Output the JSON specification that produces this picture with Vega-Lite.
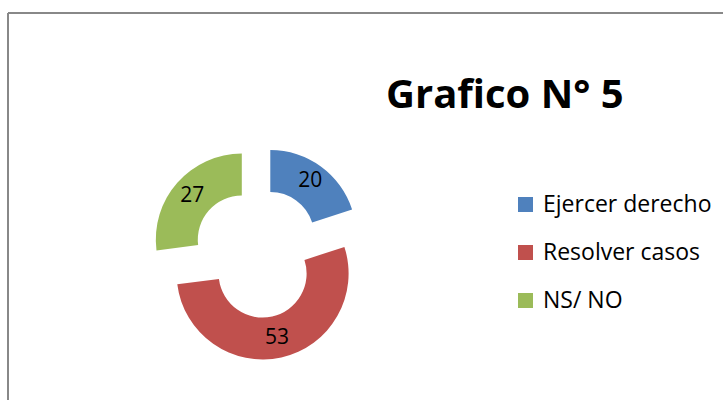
{
  "$schema": "https://vega.github.io/schema/vega-lite/v6.json",
  "autosize": "none",
  "width": 730,
  "height": 480,
  "padding": {"left": 8, "top": 13, "right": -15, "bottom": -93},
  "background": "white",
  "view": {"stroke": "#888888", "strokeWidth": 2, "strokeDash": [730, 1210, 480, 0], "fill": "white"},
  "title": {
    "text": "Grafico N° 5",
    "anchor": "start",
    "frame": "group",
    "orient": "top",
    "offset": 0,
    "dx": 378,
    "dy": 135,
    "baseline": "alphabetic",
    "font": "Open Sans",
    "fontSize": 40,
    "fontWeight": "bold",
    "color": "black"
  },
  "data": {
    "values": [
      {"categoria": "Ejercer derecho", "valor": 20, "orden": 1},
      {"categoria": "Resolver casos", "valor": 53, "orden": 2},
      {"categoria": "NS/ NO", "valor": 27, "orden": 3}
    ]
  },
  "encoding": {
    "theta": {"field": "valor", "type": "quantitative", "stack": true, "scale": {"domain": [0, 100]}},
    "order": {"field": "orden", "type": "quantitative"}
  },
  "layer": [
    {
      "mark": {"type": "arc", "innerRadius": 44, "outerRadius": 86, "xOffset": -102.7, "yOffset": -17},
      "encoding": {
        "color": {
          "field": "categoria", "type": "nominal",
          "scale": {"domain": ["Ejercer derecho", "Resolver casos", "NS/ NO"], "range": ["#4F81BD", "#C0504D", "#9BBB59"]},
          "legend": {
            "orient": "none", "legendX": 506, "legendY": 180, "title": null, "padding": 0,
            "symbolType": "square", "symbolSize": 225, "symbolStrokeWidth": 0, "symbolOpacity": 1,
            "labelFont": "Open Sans", "labelFontSize": 23, "labelColor": "black", "labelOffset": 6,
            "rowPadding": 24, "labelLimit": 300
          }
        },
        "opacity": {"condition": {"test": "datum.categoria === 'Ejercer derecho'", "value": 1}, "value": 0}
      }
    },
    {
      "mark": {"type": "arc", "innerRadius": 44, "outerRadius": 86, "xOffset": -110.4, "yOffset": 20.5},
      "encoding": {
        "color": {"field": "categoria", "type": "nominal"},
        "opacity": {"condition": {"test": "datum.categoria === 'Resolver casos'", "value": 1}, "value": 0}
      }
    },
    {
      "mark": {"type": "arc", "innerRadius": 44, "outerRadius": 86, "xOffset": -131.2, "yOffset": -13.4},
      "encoding": {
        "color": {"field": "categoria", "type": "nominal"},
        "opacity": {"condition": {"test": "datum.categoria === 'NS/ NO'", "value": 1}, "value": 0}
      }
    },
    {
      "mark": {"type": "text", "radius": 68, "xOffset": -102.7, "yOffset": -17, "font": "Open Sans", "fontSize": 21, "fill": "black"},
      "encoding": {
        "text": {"field": "valor", "type": "quantitative"},
        "opacity": {"condition": {"test": "datum.categoria === 'Ejercer derecho'", "value": 1}, "value": 0}
      }
    },
    {
      "mark": {"type": "text", "radius": 66, "xOffset": -110.4, "yOffset": 20.5, "font": "Open Sans", "fontSize": 21, "fill": "black"},
      "encoding": {
        "text": {"field": "valor", "type": "quantitative"},
        "opacity": {"condition": {"test": "datum.categoria === 'Resolver casos'", "value": 1}, "value": 0}
      }
    },
    {
      "mark": {"type": "text", "radius": 66, "xOffset": -131.2, "yOffset": -13.4, "font": "Open Sans", "fontSize": 21, "fill": "black"},
      "encoding": {
        "text": {"field": "valor", "type": "quantitative"},
        "opacity": {"condition": {"test": "datum.categoria === 'NS/ NO'", "value": 1}, "value": 0}
      }
    }
  ]
}
